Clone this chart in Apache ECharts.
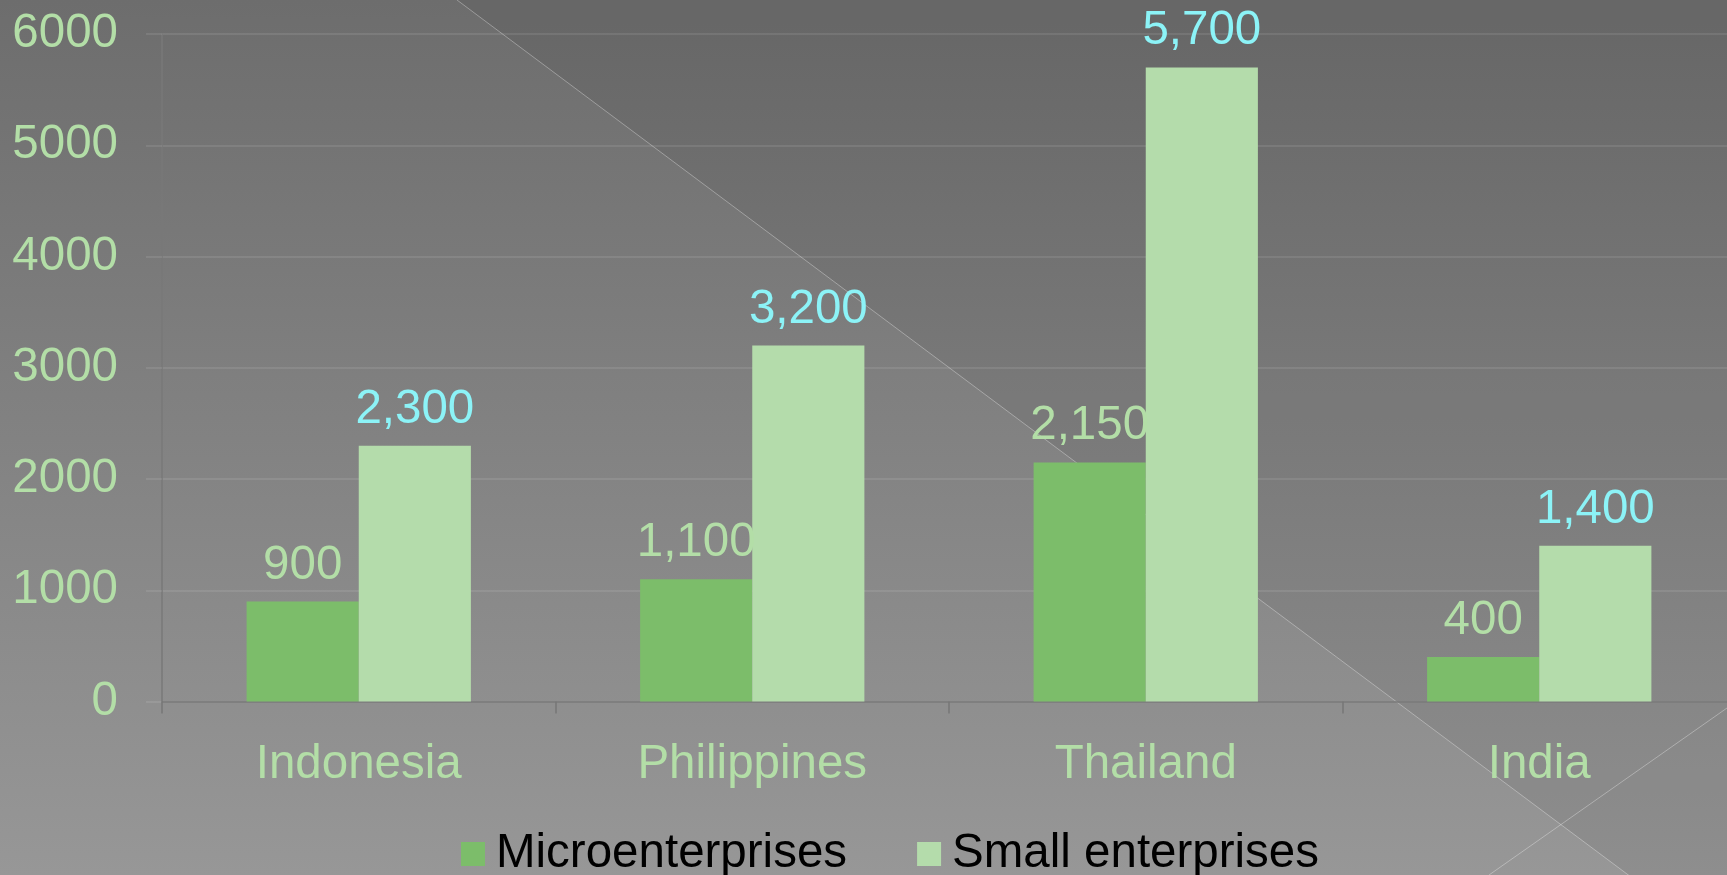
<!DOCTYPE html>
<html>
<head>
<meta charset="utf-8">
<script src="https://cdn.jsdelivr.net/npm/echarts@6/dist/echarts.min.js"></script>
<style>
  html, body { margin: 0; padding: 0; }
  #chart { width: 1727px; height: 875px; }
</style>
</head>
<body>
<div id="chart"></div>
<script>
// Enterprise counts by country
const categories = ['Indonesia', 'Philippines', 'Thailand', 'India'];
const microValues = [900, 1100, 2150, 400];
const smallValues = [2300, 3200, 5700, 1400];
const seriesNames = ['Microenterprises', 'Small enterprises'];

const FONT = '"Liberation Sans", Arial, sans-serif';
const FS = 47.5;
const labelGreen = '#b3dea7';
const labelCyan = '#8cf3f7';
const microColor = '#7cbd6a';
const smallColor = '#b4dcab';

const fmt = v => Number(v).toLocaleString('en-US');

const chart = echarts.init(document.getElementById('chart'), null, { renderer: 'canvas' });

// Decorative slide background: diagonal rule lines and a darker wedge
const W = 1727, H = 875;
const slope = 0.747;
const x0 = 457;
const bg = [
  {
    type: 'polygon', z: -20, silent: true,
    shape: { points: [[x0, 0], [W, 0], [W, H], [x0 + H / slope, H]] },
    style: { fill: 'rgba(0,0,0,0.055)' }
  },
  {
    type: 'line', z: -19, silent: true,
    shape: { x1: x0, y1: 0, x2: x0 + (H + 60) / slope, y2: H + 60 },
    style: { stroke: 'rgba(255,255,255,0.32)', lineWidth: 1 }
  },
  {
    type: 'line', z: -19, silent: true,
    shape: { x1: 1489, y1: H, x2: W, y2: 708 },
    style: { stroke: 'rgba(255,255,255,0.32)', lineWidth: 1 }
  }
];

const option = {
  backgroundColor: {
    type: 'linear', x: 0, y: 0, x2: 0, y2: 1,
    colorStops: [
      { offset: 0, color: '#6d6d6d' },
      { offset: 1, color: '#979797' }
    ]
  },
  animation: false,
  textStyle: { fontFamily: FONT },
  graphic: { elements: bg },
  grid: {
    left: 162, right: -9, top: 34, bottom: 173.4,
    containLabel: false,
    outerBoundsMode: 'none'
  },
  legend: {
    data: seriesNames,
    left: 456, top: 825,
    icon: 'rect',
    itemWidth: 24, itemHeight: 24,
    itemGap: 70,
    textStyle: { color: '#000000', fontSize: FS, fontFamily: FONT, padding: [0, 0, 0, 6] }
  },
  xAxis: {
    type: 'category',
    data: categories,
    axisLine: { show: true, lineStyle: { color: '#777777', width: 1.5 } },
    axisTick: { show: true, length: 12, lineStyle: { color: '#777777', width: 1.5 } },
    axisLabel: { color: labelGreen, fontSize: FS, fontFamily: FONT, margin: 39 },
    splitLine: { show: false }
  },
  yAxis: {
    type: 'value',
    min: 0, max: 6000, interval: 1000,
    axisLine: { show: true, lineStyle: { color: '#787878', width: 1.5 } },
    axisTick: { show: true, length: 16, lineStyle: { color: 'rgba(255,255,255,0.09)', width: 2 } },
    axisLabel: {
      color: labelGreen, fontSize: FS, fontFamily: FONT, margin: 44,
      padding: [8, 0, 0, 0],
      formatter: v => String(v)
    },
    splitLine: { show: true, lineStyle: { color: 'rgba(255,255,255,0.09)', width: 2 } }
  },
  series: [
    {
      name: seriesNames[0],
      type: 'bar',
      data: microValues,
      barGap: '0%',
      barCategoryGap: '43%',
      itemStyle: { color: microColor },
      label: {
        show: true, position: 'top', distance: 12,
        color: labelGreen, fontSize: FS, fontFamily: FONT,
        formatter: p => fmt(p.value)
      }
    },
    {
      name: seriesNames[1],
      type: 'bar',
      data: smallValues,
      barGap: '0%',
      barCategoryGap: '43%',
      itemStyle: { color: smallColor },
      label: {
        show: true, position: 'top', distance: 12,
        color: labelCyan, fontSize: FS, fontFamily: FONT,
        formatter: p => fmt(p.value)
      }
    }
  ]
};

chart.setOption(option);
</script>
</body>
</html>
